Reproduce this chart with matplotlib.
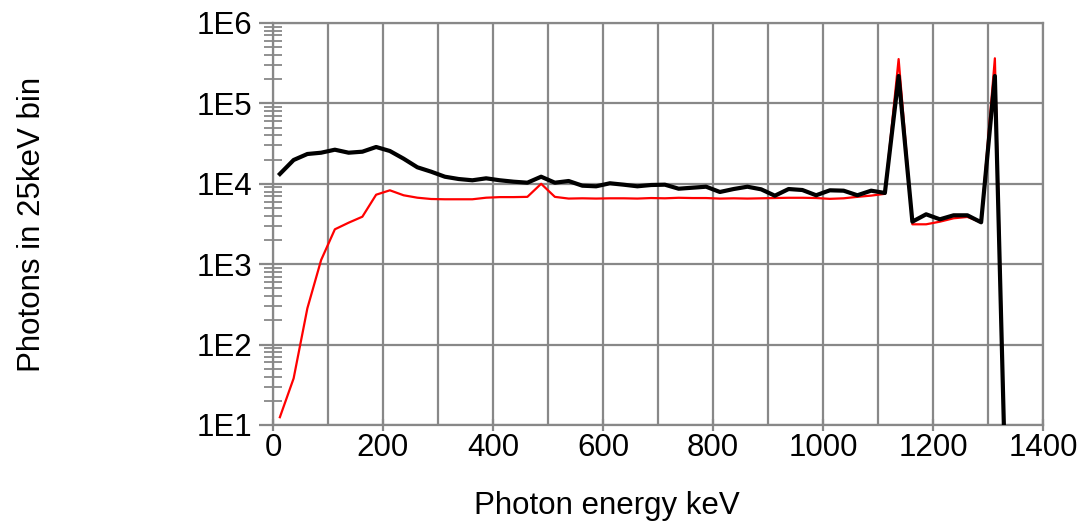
import matplotlib
matplotlib.use("Agg")
import matplotlib.pyplot as plt
from matplotlib.ticker import LogLocator, FixedLocator, NullFormatter
import numpy as np

plt.rcParams['font.family'] = ['Liberation Sans', 'DejaVu Sans']

energy_kev = [12.5 + 25 * k for k in range(54)]

photons_black = [
    13250, 19770, 23480, 24360, 26550, 24360, 25080, 28700, 25580, 20520,
    16040, 14150, 12250, 11470, 11060, 11700, 11060, 10620, 10320, 12250,
    10320, 10830, 9470, 9310, 10150, 9750, 9310, 9660, 9750, 8690,
    8940, 9200, 7910, 8610, 9200, 8540, 7110, 8610, 8370, 7200,
    8300, 8210, 7200, 8210, 7690, 219000, 3380, 4175, 3616, 4057,
    4057, 3320, 219000, 0.05,
]

photons_red = [
    12.5, 38, 283, 1127, 2717, 3282, 3897, 7316, 8300, 7196,
    6715, 6470, 6420, 6420, 6420, 6715, 6830, 6830, 6880, 10000,
    6880, 6550, 6600, 6550, 6600, 6600, 6550, 6650, 6600, 6700,
    6650, 6650, 6550, 6600, 6550, 6600, 6650, 6700, 6700, 6650,
    6500, 6600, 6880, 7130, 7500, 356000, 3135, 3135, 3380, 3725,
    3870, 3320, 364000, 0.05,
]

x_ticks = [0, 200, 400, 600, 800, 1000, 1200, 1400]
y_ticks = [1e1, 1e2, 1e3, 1e4, 1e5, 1e6]
y_tick_labels = ["1E1", "1E2", "1E3", "1E4", "1E5", "1E6"]

fig = plt.figure(figsize=(10.77, 5.25), dpi=100)
ax = fig.add_axes([273 / 1077, 1 - 425 / 525, 770 / 1077, 402 / 525])

grid_c = "#888888"
ax.plot(energy_kev, photons_red, color="#ff0000", lw=1.6, zorder=3)
ax.plot(energy_kev, photons_black, color="#000000", lw=3.0, zorder=4)

ax.set_yscale("log")
ax.set_xlim(0, 1400)
ax.set_ylim(10, 1e6)

ax.xaxis.set_major_locator(FixedLocator(x_ticks))
ax.set_xticklabels([str(v) for v in x_ticks])
ax.xaxis.set_minor_locator(FixedLocator(list(range(100, 1400, 200))))
ax.yaxis.set_major_locator(FixedLocator(y_ticks))
ax.set_yticklabels(y_tick_labels)
ax.yaxis.set_minor_locator(LogLocator(base=10, subs=np.arange(2, 10)))
ax.yaxis.set_minor_formatter(NullFormatter())

ax.grid(True, which="major", axis="both", color=grid_c, lw=1.6, zorder=1)
ax.grid(True, which="minor", axis="x", color=grid_c, lw=1.6, zorder=1)

for s in ax.spines.values():
    s.set_color(grid_c)
    s.set_linewidth(1.6)

ax.tick_params(axis="y", which="major", direction="out", length=10, width=1.6,
               color=grid_c, labelsize=22.5, pad=5)
ax.tick_params(axis="y", which="minor", direction="inout", length=13, width=1.3,
               color=grid_c)
ax.tick_params(axis="x", which="major", direction="inout", length=8, width=1.6,
               color=grid_c, labelsize=22.5, pad=2)
ax.tick_params(axis="x", which="minor", length=0)

ax.set_xlabel("Photon energy keV", fontsize=22.5)
ax.xaxis.set_label_coords(0.434, -0.165)
ax.set_ylabel("Photons in 25keV bin", fontsize=22.5)
ax.yaxis.set_label_coords(-0.313, 0.5)
ax.yaxis.label.set_va("center")

fig.savefig("out.png", dpi=100)
